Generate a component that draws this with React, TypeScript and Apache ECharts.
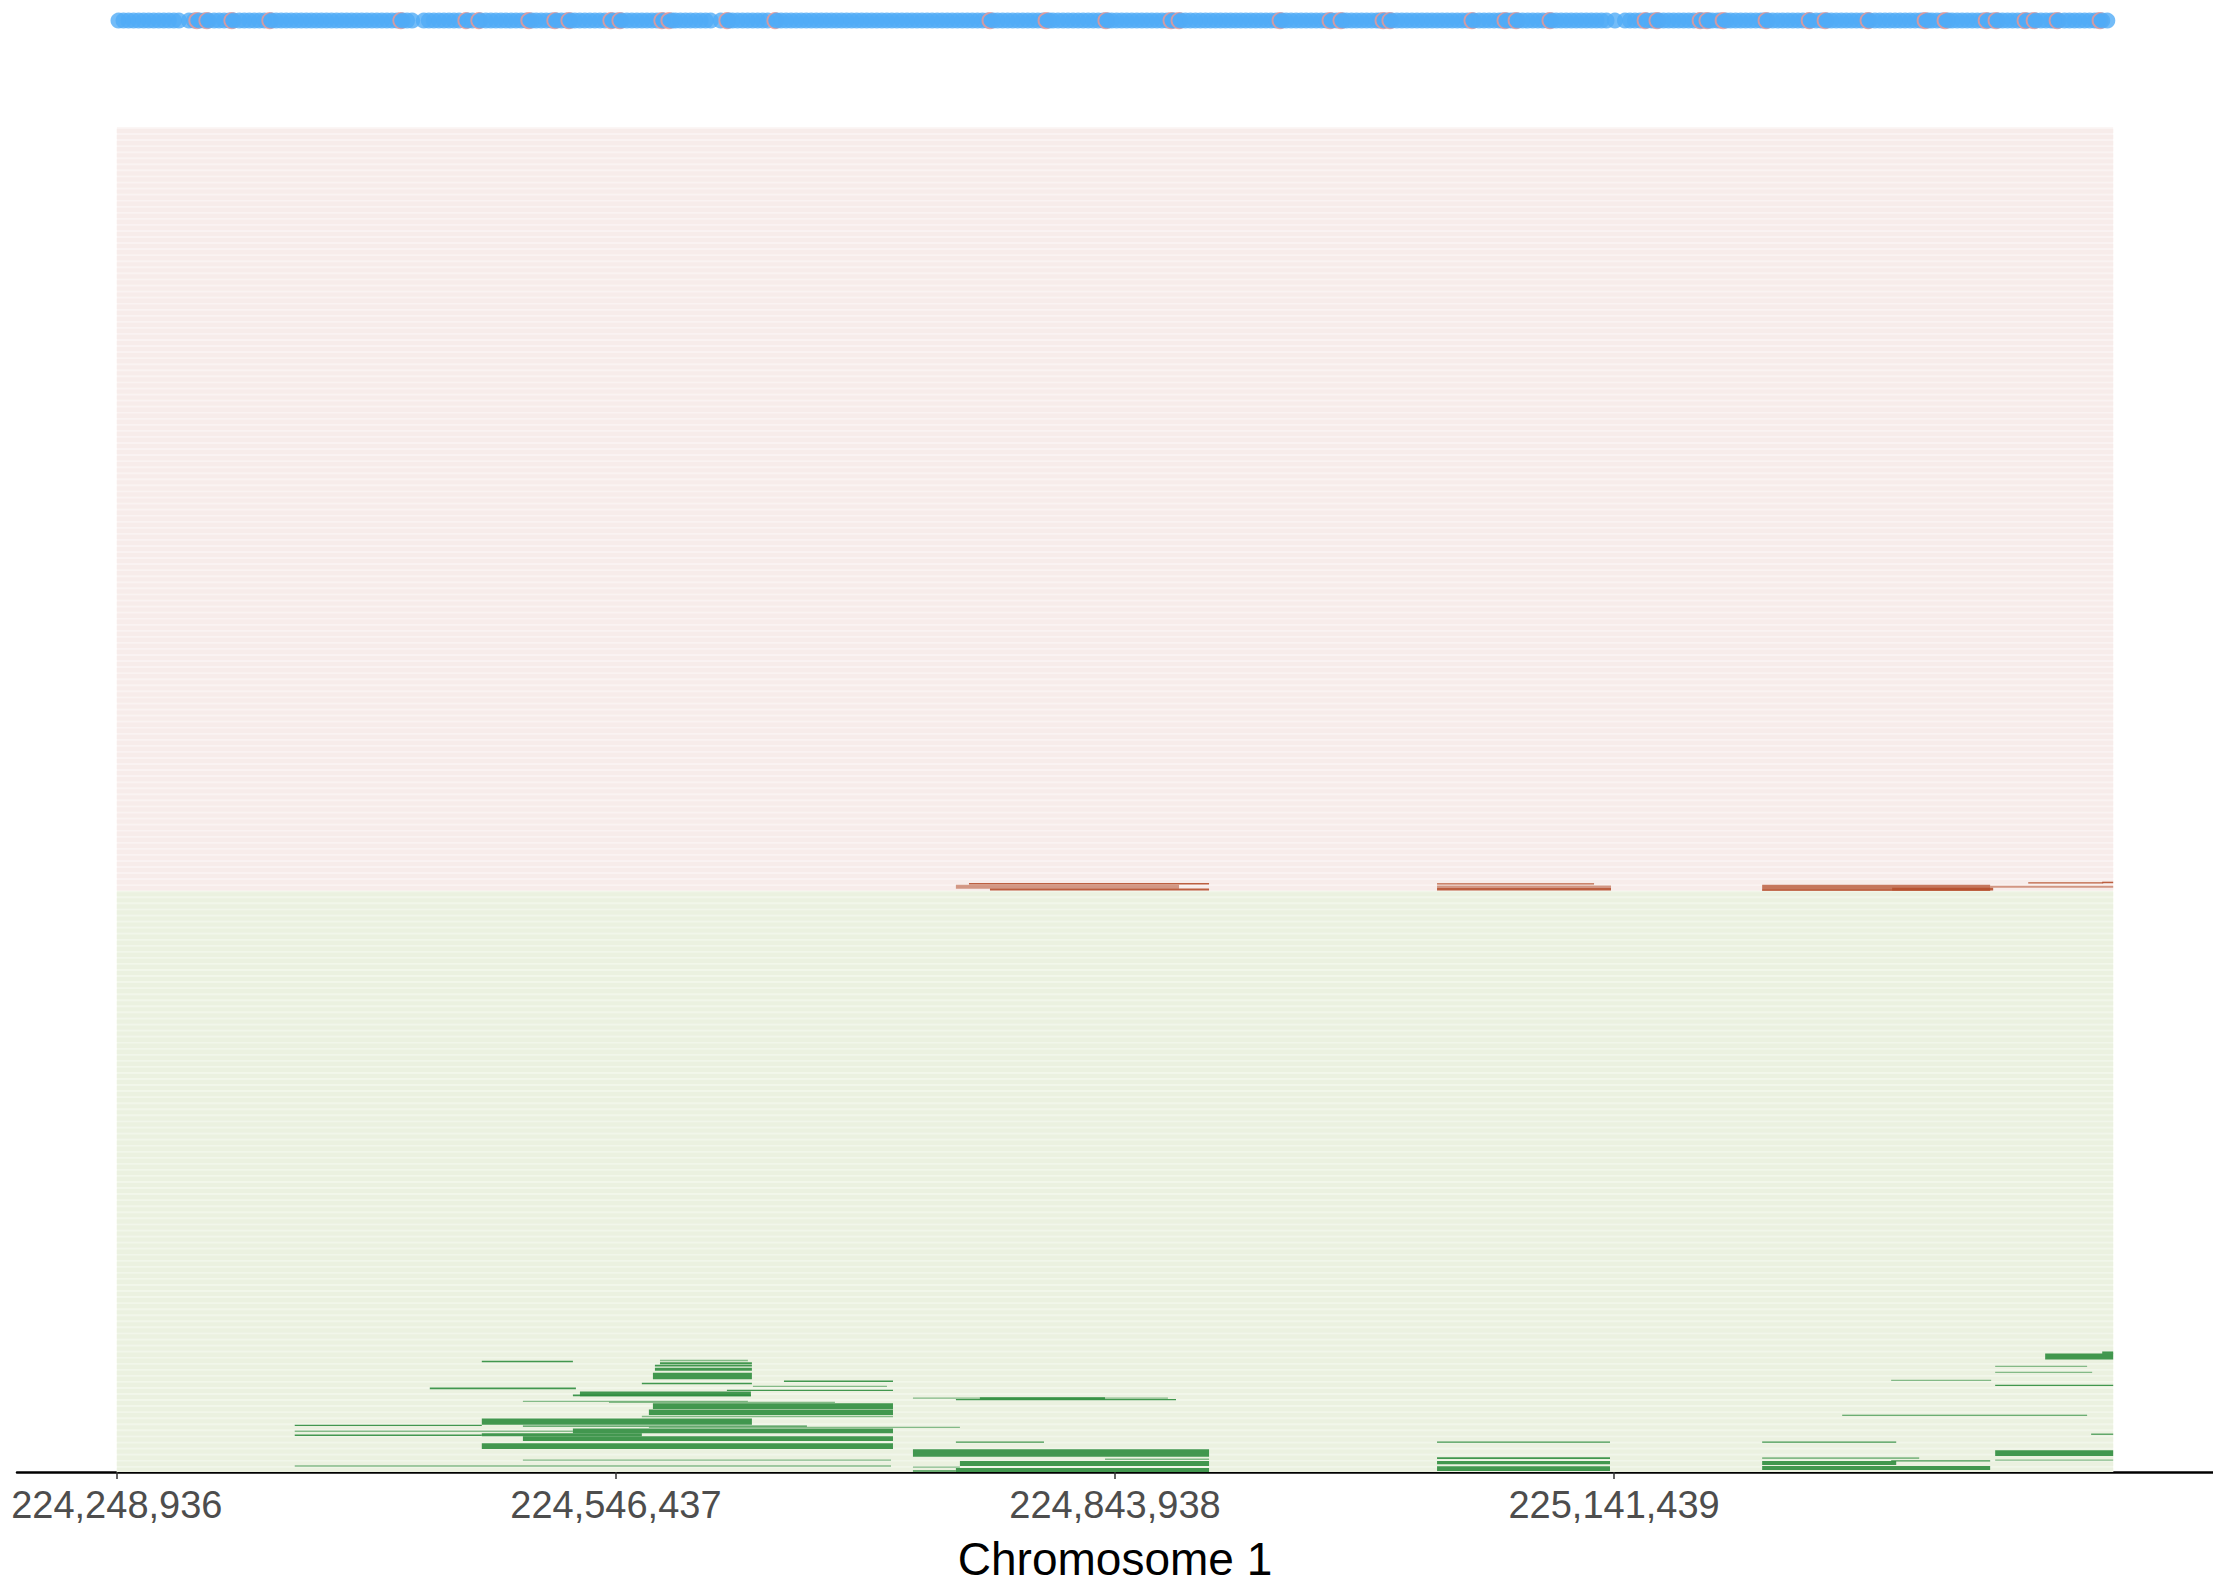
import React, { useEffect, useRef } from "react";
import * as echarts from "echarts";

// ---------- data ----------
const REGION_START = 224248936;
const REGION_END = 225438940;
const tickPositions = [224248936, 224546437, 224843938, 225141439];
const axisMin = 224189436;
const axisMax = 225498440;
const greenRowCount = 96;
const pinkRowCount = 126;
const snpTrackRow = 239.6;
const yMax = 243;
const axisTitle = "Chromosome 1";

// SNP positions, kb from REGION_START
const snpKb = [
  1, 4, 7, 10, 13, 16, 19, 22, 25, 28, 31, 34, 37, 43, 46, 49.2, 52, 54.7, 58, 61, 64, 67, 69.6, 73, 76, 79, 82, 85, 88, 92.2,
  95, 98, 101, 104, 107, 110, 113, 116, 119, 122, 125, 128, 131, 134, 137, 140, 143, 146, 149, 152, 155, 158, 161, 164, 167,
  170.3, 173, 176, 183, 186, 189, 192, 195, 198, 201, 204, 209.1, 212, 216.8, 220, 223, 226, 229, 232, 235, 238, 241, 244,
  247.3, 250, 253, 256, 259, 262.1, 265, 268, 270.5, 273, 276, 279, 282, 285, 288, 291, 295.5, 298, 300.9, 304, 307, 310,
  313, 316, 319, 322, 325.9, 330.9, 333, 336, 339, 342, 345, 348, 351, 354, 360, 364.7, 367, 370, 373, 376, 379, 382, 385,
  388, 393.3, 396, 399, 402, 405, 408, 411, 414, 417, 420, 423, 426, 429, 432, 435, 438, 441, 444, 447, 450, 453, 456, 459,
  462, 465, 468, 471, 474, 477, 480, 483, 486, 489, 492, 495, 498, 501, 504, 507, 510, 513, 516, 519, 522.3, 525, 528, 531,
  534, 537, 540, 543, 546, 549, 552, 555.7, 558, 561, 564, 567, 570, 573, 576, 579, 582, 585, 588, 590.6, 593, 596, 599, 602,
  605, 608, 611, 614, 617, 620, 623, 626, 629.4, 631, 634.2, 637, 640, 643, 646, 649, 652, 655, 658, 661, 664, 667, 670, 673,
  676, 679, 682, 685, 688, 691, 694.4, 697, 700, 703, 706, 709, 712, 715, 718, 721, 724.2, 727, 730.7, 733, 736, 739, 742,
  745, 748, 751, 753, 755.8, 758, 759.9, 763, 766, 769, 772, 775, 778, 781, 784, 787, 790, 793, 796, 799, 802, 805, 808.8,
  812, 815, 818, 821, 824, 826, 828.5, 831, 833, 835.1, 838, 841, 844, 847, 850, 853, 855.3, 858, 861, 864, 867, 870, 873,
  876, 879, 882, 885, 888, 893, 899, 902, 905, 908, 912, 915, 917, 919.1, 922, 925, 928, 931, 934, 937, 940, 943, 944.8,
  947, 948.9, 951, 954, 956, 959.3, 962, 965, 968, 971, 974, 977, 980, 982, 984.1, 987, 990, 993, 996, 999, 1002, 1005, 1008,
  1009.8, 1013, 1016, 1019.3, 1022, 1025, 1028, 1031, 1034, 1037, 1040, 1043, 1044.9, 1048, 1051, 1054, 1057, 1060, 1063,
  1066, 1069, 1072, 1075, 1077, 1079.7, 1082, 1085, 1088, 1091.6, 1094, 1097, 1100, 1103, 1106, 1109, 1112, 1115.3, 1118,
  1121.2, 1124, 1127, 1130, 1133, 1136, 1138.5, 1141, 1143.9, 1147, 1150, 1153, 1155, 1157.6, 1161, 1164, 1167, 1170, 1173,
  1176, 1179, 1181, 1183.5, 1186.5,
];

// highlighted SNPs, kb from REGION_START
const sigSnpKb = [
  47.7, 53.7, 68.6, 91.2, 169.3, 208.1, 215.8, 245.6, 261.1, 269.5, 294.5, 299.9, 324.9, 329.1, 363.7, 392.3, 520.5, 553.9,
  589.6, 628.4, 633.2, 693.4, 723.2, 729.7, 754.8, 758.9, 807.8, 827.5, 834.1, 854.3, 911.0, 918.1, 943.8, 947.9, 957.5,
  983.1, 1008.8, 1018.3, 1043.9, 1077.9, 1089.8, 1114.3, 1120.2, 1137.5, 1142.9, 1156.6, 1182.2,
];

// [start, end, rowLow, rowHigh, intensity]
const greenSegments = [
  [224466500, 224520800, 18.12, 18.36, 1],
  [224572700, 224625100, 18.3, 18.52, 0],
  [224572700, 224627500, 17.8, 18.1, 1],
  [224569700, 224627500, 17.4, 17.7, 1],
  [224569700, 224627500, 16.7, 17.2, 1],
  [224568500, 224627500, 15.3, 16.4, 1],
  [224646600, 224711600, 14.85, 15.1, 1],
  [224561900, 224627500, 14.5, 14.74, 1],
  [224628100, 224708000, 14.02, 14.24, 0],
  [224435500, 224522600, 13.65, 13.95, 1],
  [224612600, 224711600, 13.36, 13.58, 1],
  [224525000, 224626900, 12.5, 13.3, 1],
  [224520800, 224626900, 12.5, 12.8, 1],
  [224491000, 224625100, 11.56, 11.78, 0],
  [224542300, 224677000, 11.4, 11.6, 0],
  [224568500, 224711600, 10.4, 11.34, 1],
  [224566100, 224711600, 9.4, 10.3, 1],
  [224561900, 224711600, 9.05, 9.3, 0],
  [224466500, 224627500, 7.8, 8.85, 1],
  [224355000, 224466500, 7.6, 7.82, 1],
  [224491000, 224660300, 7.45, 7.66, 1],
  [224566100, 224751500, 7.28, 7.48, 0],
  [224520800, 224711600, 6.4, 7.2, 1],
  [224355000, 224520800, 6.62, 6.84, 0],
  [224466500, 224561900, 5.9, 6.4, 1],
  [224355000, 224466500, 5.96, 6.18, 1],
  [224491000, 224711600, 5.1, 5.9, 1],
  [224466500, 224711600, 3.8, 4.75, 1],
  [224491000, 224710400, 1.86, 2.08, 0],
  [224355000, 224710400, 0.88, 1.1, 0],
  [224723500, 224875500, 12.08, 12.28, 0],
  [224763400, 224838000, 11.98, 12.34, 1],
  [224749100, 224880300, 11.86, 12.04, 1],
  [224749100, 224801600, 4.82, 5.04, 1],
  [224723500, 224900000, 2.5, 3.75, 1],
  [224838000, 224900000, 2.0, 2.22, 0],
  [224751500, 224900000, 1.0, 1.8, 1],
  [224723500, 224751500, 0.72, 0.92, 0],
  [224749100, 224900000, 0.0, 0.66, 1],
  [224723500, 224749100, 0.06, 0.3, 1],
  [225035900, 225139000, 4.82, 5.04, 1],
  [225035900, 225139000, 2.15, 2.45, 1],
  [225035900, 225139000, 1.3, 1.8, 1],
  [225035900, 225139000, 0.15, 0.95, 1],
  [225229700, 225309600, 4.82, 5.04, 1],
  [225229700, 225323300, 2.15, 2.45, 0],
  [225306600, 225365600, 1.72, 1.92, 1],
  [225229700, 225309600, 1.15, 1.8, 1],
  [225229700, 225365600, 0.33, 0.99, 1],
  [225306600, 225366200, 15.02, 15.22, 0],
  [225277400, 225423400, 9.27, 9.47, 1],
  [225368600, 225423400, 17.32, 17.52, 0],
  [225368600, 225426400, 16.33, 16.53, 0],
  [225368600, 225438940, 14.18, 14.4, 1],
  [225398400, 225438940, 18.57, 19.55, 1],
  [225432400, 225438940, 19.5, 19.9, 1],
  [225425800, 225438940, 6.14, 6.34, 1],
  [225368600, 225438940, 2.63, 3.61, 1],
  [225368600, 225438940, 1.87, 2.07, 0],
];

const redSegments = [
  [224756900, 224900000, 97.0, 97.22, 1],
  [224749100, 224882100, 96.3, 96.94, 0],
  [224769400, 224900000, 95.98, 96.32, 1],
  [225035900, 225129500, 97.0, 97.2, 1],
  [225035900, 225139600, 96.4, 96.8, 0],
  [225035900, 225139600, 96.0, 96.4, 1],
  [225229700, 225365600, 96.0, 96.94, 0.6],
  [225229700, 225365600, 95.98, 96.15, 1],
  [225307200, 225367400, 95.98, 96.45, 1],
  [225388300, 225433000, 97.18, 97.36, 1],
  [225432400, 225438940, 97.2, 97.45, 1],
  [225365600, 225438940, 96.45, 96.77, 0],
];

// ---------- styles ----------
const FONT = "'Liberation Sans', Arial, Helvetica, sans-serif";
const BLUE = "#50ABF6";
const PINK_RING = "#F3968E";
const GREEN_FILL = "#2F8D3E";
const RED_FILL = "#B5502E";
const bgColors = {
  green: { light: "#F1F6EA", dark: "#EBF1E0" },
  pink: { light: "#FAF3F2", dark: "#F7ECEA" },
};

export default function App() {
  const ref = useRef<HTMLDivElement>(null);

  useEffect(() => {
    if (!ref.current) return;
    const chart = echarts.init(ref.current, undefined, { renderer: "svg", width: 2213, height: 1587 });

    const totalRows = greenRowCount + pinkRowCount;
    const rows = Array.from({ length: totalRows }, (_, i) => [REGION_START, REGION_END, i, i < greenRowCount ? 0 : 1]);

    const snps = snpKb
      .map((k) => ({ k, sig: false }))
      .concat(sigSnpKb.map((k) => ({ k, sig: true })))
      .sort((a, b) => a.k - b.k)
      .map((s) => ({
        value: [REGION_START + s.k * 1000, snpTrackRow],
        symbolSize: s.sig ? 15 : 16,
        itemStyle: s.sig
          ? { color: BLUE, borderColor: PINK_RING, borderWidth: 2 }
          : { color: BLUE, borderWidth: 0 },
      }));

    const segRender = (fill: string) => (params: any, api: any) => {
      const x0 = api.value(0);
      const x1 = api.value(1);
      const y0 = api.value(2);
      const y1 = api.value(3);
      const k = api.value(4);
      const p0 = api.coord([x0, y1]);
      const p1 = api.coord([x1, y0]);
      return {
        type: "rect",
        shape: { x: p0[0], y: p0[1], width: p1[0] - p0[0], height: Math.max(1.2, p1[1] - p0[1]) },
        style: { fill, opacity: 0.55 + 0.35 * k },
      };
    };

    const option: any = {
      animation: false,
      backgroundColor: "#ffffff",
      grid: { left: 17, right: 0, top: 0, bottom: 105, containLabel: false },
      xAxis: {
        type: "value",
        min: axisMin,
        max: axisMax,
        splitLine: { show: false },
        axisLine: { show: true, onZero: false, lineStyle: { color: "#000000", width: 2.5 } },
        axisTick: { show: true, customValues: tickPositions, length: 7, lineStyle: { color: "#333333", width: 1.5 } },
        axisLabel: {
          show: true,
          customValues: tickPositions,
          formatter: (v: number) => Number(v).toLocaleString("en-US"),
          color: "#4D4D4D",
          fontSize: 38,
          fontFamily: FONT,
          margin: 14,
        },
        name: axisTitle,
        nameLocation: "middle",
        nameGap: 64,
        nameTextStyle: { color: "#000000", fontSize: 46, fontFamily: FONT },
      },
      yAxis: { type: "value", min: 0, max: yMax, show: false, splitLine: { show: false } },
      series: [
        {
          type: "custom",
          silent: true,
          z: 1,
          data: rows,
          encode: { x: [0, 1], y: 2 },
          renderItem: (params: any, api: any) => {
            const i = api.value(2);
            const g = api.value(3) === 0 ? bgColors.green : bgColors.pink;
            const a = api.coord([api.value(0), i + 1]);
            const b = api.coord([api.value(1), i]);
            const h = b[1] - a[1];
            return {
              type: "group",
              children: [
                { type: "rect", shape: { x: a[0], y: a[1], width: b[0] - a[0], height: h }, style: { fill: g.light } },
                { type: "rect", shape: { x: a[0], y: a[1] + h * 0.28, width: b[0] - a[0], height: h * 0.72 }, style: { fill: g.dark } },
              ],
            };
          },
        },
        {
          type: "custom",
          silent: true,
          z: 2,
          data: greenSegments,
          encode: { x: [0, 1], y: [2, 3] },
          renderItem: segRender(GREEN_FILL),
        },
        {
          type: "custom",
          silent: true,
          z: 2,
          data: redSegments,
          encode: { x: [0, 1], y: [2, 3] },
          renderItem: segRender(RED_FILL),
        },
        {
          type: "scatter",
          silent: true,
          z: 3,
          symbol: "circle",
          data: snps,
        },
      ],
    };

    chart.setOption(option);
    return () => chart.dispose();
  }, []);

  return (
    <div
      ref={ref}
      style={{ position: "fixed", left: 0, top: 0, width: 2213, height: 1587, background: "#fff" }}
    />
  );
}
